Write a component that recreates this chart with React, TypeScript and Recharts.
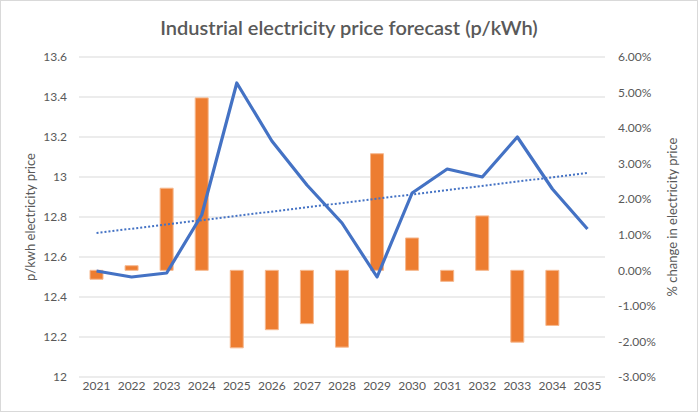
import { Bar, CartesianGrid, ComposedChart, Line, XAxis, YAxis } from 'recharts';

const years = ['2021', '2022', '2023', '2024', '2025', '2026', '2027', '2028', '2029', '2030', '2031', '2032', '2033', '2034', '2035'];
// p/kWh
const price = [12.53, 12.5, 12.52, 12.81, 13.47, 13.18, 12.96, 12.77, 12.5, 12.92, 13.04, 13.0, 13.2, 12.94, 12.74];
// % change, no value for the final year
const pctChange = [-0.25, 0.13, 2.31, 4.85, -2.18, -1.67, -1.5, -2.16, 3.28, 0.91, -0.31, 1.53, -2.02, -1.55, null];
// linear trend, only its two ends are plotted
const trend = [12.72, null, null, null, null, null, null, null, null, null, null, null, null, null, 13.02];

const priceTicks = [12, 12.2, 12.4, 12.6, 12.8, 13, 13.2, 13.4, 13.6];
const pctTicks = [-3, -2, -1, 0, 1, 2, 3, 4, 5, 6];

const data = years.map((year, i) => ({ year, price: price[i], pct: pctChange[i], trend: trend[i] }));

const FONT = 'Lato, "Open Sans", sans-serif';
const GREY = '#595959';

const AxisTitle = ({ viewBox, text, dx }: any) => {
  const x = viewBox.x + dx;
  const y = viewBox.y + viewBox.height / 2;
  return (
    <text x={x} y={y} transform={`rotate(-90 ${x} ${y})`} textAnchor="middle" dominantBaseline="central" fill={GREY} fontSize={13} fontFamily={FONT}>
      {text}
    </text>
  );
};

export default function App() {
  return (
    <div style={{ width: 698, height: 412, boxSizing: 'border-box', border: '1px solid #D9D9D9', background: '#fff', position: 'relative', fontFamily: FONT }}>
      <style>{'body{margin:0}'}</style>
      <div style={{ position: 'absolute', top: 14, left: 0, width: 696, textAlign: 'center', fontSize: 20, fontWeight: 600, color: GREY }}>
        Industrial electricity price forecast (p/kWh)
      </div>
      <ComposedChart width={696} height={410} data={data} margin={{ top: 56, right: 0, bottom: 4, left: 0 }}>
        <CartesianGrid yAxisId="left" vertical={false} stroke="#D9D9D9" />
        <XAxis dataKey="year" axisLine={false} tickLine={false} tickSize={0} tickMargin={4} height={30} tick={{ fill: GREY, fontSize: 12, fontFamily: FONT }} />
        <YAxis
          yAxisId="left"
          width={78}
          domain={[12, 13.6]}
          ticks={priceTicks}
          interval={0}
          axisLine={false}
          tickLine={false}
          tickMargin={6}
          tickFormatter={(v: number) => String(Number(v.toFixed(1)))}
          tick={{ fill: GREY, fontSize: 12, fontFamily: FONT }}
          label={{ content: (p: any) => <AxisTitle viewBox={p.viewBox} text="p/kwh electricity price" dx={29} /> }}
        />
        <YAxis
          yAxisId="right"
          orientation="right"
          width={92}
          domain={[-3, 6]}
          ticks={pctTicks}
          interval={0}
          axisLine={false}
          tickLine={false}
          tickMargin={7}
          tickFormatter={(v: number) => `${v.toFixed(2)}%`}
          tick={{ fill: GREY, fontSize: 12, fontFamily: FONT, textAnchor: 'start' }}
          label={{ content: (p: any) => <AxisTitle viewBox={p.viewBox} text="% change in electricity price" dx={67} /> }}
        />
        <Bar yAxisId="right" dataKey="pct" barSize={13} fill="#ED7D31" stroke="#F6B88E" strokeWidth={1} isAnimationActive={false} />
        <Line yAxisId="left" dataKey="price" stroke="#4472C4" strokeWidth={3.2} dot={false} strokeLinejoin="round" isAnimationActive={false} />
        <Line yAxisId="left" dataKey="trend" stroke="#4472C4" strokeWidth={2} strokeDasharray="2 2" dot={false} connectNulls isAnimationActive={false} />
      </ComposedChart>
    </div>
  );
}
